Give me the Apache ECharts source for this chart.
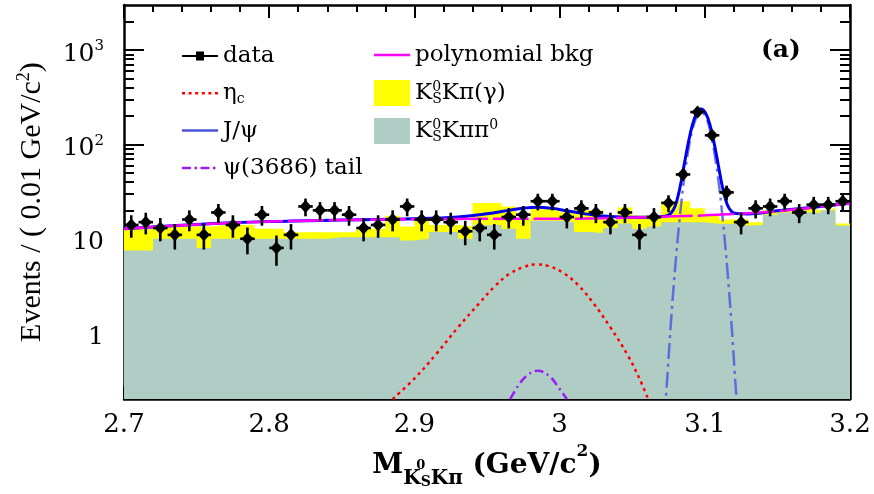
<!DOCTYPE html>
<html>
<head>
<meta charset="utf-8">
<title>KsKpi mass spectrum</title>
<script src="https://cdn.jsdelivr.net/npm/echarts@6.0.0/dist/echarts.min.js"></script>
<style>
  html, body { margin: 0; padding: 0; background: #fff; }
  #chart { width: 874px; height: 494px; }
</style>
</head>
<body>
<div id="chart"></div>
<script>
// binning: 0.01 GeV/c2 from 2.70 to 3.20
const binLow = 2.70, binWidth = 0.01, nBins = 50;

// events per bin
const dataCounts = [14, 15, 13, 11, 16, 11, 19, 14, 10, 18,
                    8, 11, 22, 20, 20, 18, 13, 14, 16, 22,
                    16, 16, 15, 12, 13, 11, 17, 18, 25, 25,
                    17, 21, 19, 15, 19, 11, 17, 24, 48, 220,
                    125, 31, 15, 21, 22, 25, 19, 23, 23, 25];

// K_S K pi pi0 background (teal)
const kskpipi0Hist = [7.5, 7.5, 10, 10, 10, 8, 10, 10, 10, 10,
                      10, 10, 10, 10, 10.4, 10.4, 10.4, 10.4, 10.4, 9.6,
                      10, 11.8, 11.8, 10, 14, 14, 12.8, 10, 15.5, 15.5,
                      15, 11.8, 11.5, 13, 14.5, 12.8, 13.5, 15, 15, 15,
                      14.4, 14.4, 13.8, 14, 18, 19, 20, 19, 20, 13.8];

// K_S K pi (gamma) background (yellow, stacked on the teal one)
const kskpigHist = [5.5, 5, 3.5, 3.5, 3.5, 5.5, 4, 4, 4, 2.8,
                    2.8, 1.7, 1.7, 1.7, 1.3, 1.3, 2.4, 2.4, 7.1, 3.9,
                    6.9, 2.2, 2.2, 3.5, 10, 10, 9.2, 6, 5, 5,
                    4, 8.2, 8.5, 3, 7, 4.8, 3.5, 10, 10, 6,
                    3.6, 1.6, 2.2, 1, 2, 1, 1, 1, 1, 0.7];

// fit curves [mass, events]
const polyCurve = [[2.70, 12.8], [2.75, 14.2], [2.80, 15.2], [2.85, 15.8], [2.90, 16.1],
                   [2.95, 16.3], [3.00, 16.3], [3.05, 16.8], [3.10, 17.7], [3.15, 19.6], [3.20, 23.8]];

const etacCurve = [[2.885, 0.2], [2.90, 0.33], [2.915, 0.6], [2.93, 1.15], [2.945, 2.1],
                   [2.955, 3.1], [2.965, 4.2], [2.975, 5.0], [2.984, 5.35], [2.993, 5.1],
                   [3.003, 4.3], [3.013, 3.2], [3.023, 2.1], [3.035, 1.15], [3.047, 0.58],
                   [3.055, 0.33], [3.061, 0.2]];

const psiTailCurve = [[2.966, 0.2], [2.971, 0.27], [2.977, 0.35], [2.985, 0.40],
                      [2.993, 0.35], [2.999, 0.27], [3.005, 0.2]];

const jpsiCurve = [[3.072, 0.13], [3.0735, 0.24], [3.0765, 1.19], [3.0795, 4.75], [3.0825, 15.3],
                   [3.0855, 40], [3.0885, 84], [3.0915, 144], [3.0945, 198], [3.0975, 220],
                   [3.1005, 198], [3.1035, 144], [3.1065, 84], [3.1095, 40], [3.1125, 15.3],
                   [3.1155, 4.75], [3.1185, 1.19], [3.1215, 0.24], [3.123, 0.13]];

const totalCurve = [[2.70, 12.8], [2.75, 14.2], [2.80, 15.2], [2.85, 15.8], [2.90, 16.3],
                    [2.93, 17.0], [2.95, 18.4], [2.965, 20.0], [2.975, 21.1], [2.985, 21.6],
                    [2.995, 21.0], [3.005, 19.8], [3.015, 18.6], [3.03, 17.4], [3.045, 16.9],
                    [3.06, 16.9], [3.0705, 17.2], [3.0735, 17.5], [3.0765, 18.5], [3.0795, 22.1],
                    [3.0825, 32.7], [3.0855, 57.4], [3.0885, 101.5], [3.0915, 161.5], [3.0945, 215.6],
                    [3.0975, 237.7], [3.1005, 215.8], [3.1035, 161.9], [3.1065, 102], [3.1095, 58],
                    [3.1125, 33.4], [3.1155, 22.9], [3.1185, 19.4], [3.1215, 18.5], [3.13, 18.3],
                    [3.15, 19.8], [3.175, 21.6], [3.20, 23.8]];

// axis ticks
const yMajorTicks = [1, 10, 100, 1000];
const yMinorTicks = [0.2, 0.3, 0.4, 0.5, 0.6, 0.7, 0.8, 0.9,
                     2, 3, 4, 5, 6, 7, 8, 9,
                     20, 30, 40, 50, 60, 70, 80, 90,
                     200, 300, 400, 500, 600, 700, 800, 900, 2000];

const edges = [];
for (let i = 0; i <= nBins; i++) edges.push(+(binLow + i * binWidth).toFixed(2));
const centers = dataCounts.map((_, i) => +(binLow + (i + 0.5) * binWidth).toFixed(3));
const histSteps = h => edges.map((e, i) => [e, h[Math.min(i, nBins - 1)]]);
// yellow is drawn as the stacked sum, teal is painted over it
const stackedTop = kskpipi0Hist.map((v, i) => v + kskpigHist[i]);

const serif = 'DejaVu Serif';
const legendNames = {
  data: 'data',
  eta_c: '{t|η}{sb|c}',
  jpsi: 'J/ψ',
  psi_tail: 'ψ(3686) tail',
  poly: 'polynomial bkg',
  kskpig: 'K{z|0}{s|S}Kπ(γ)',
  kskpipi0: 'K{z|0}{s|S}Kππ{p|0}'
};
const legendText = {
  fontFamily: serif, fontSize: 23, color: '#000', lineHeight: 26,
  rich: {
    t: { fontFamily: serif, fontSize: 23, lineHeight: 26 },
    sb: { fontFamily: serif, fontSize: 14, lineHeight: 14, verticalAlign: 'bottom' },
    z: { fontFamily: serif, fontSize: 14, lineHeight: 14, verticalAlign: 'top', width: 0 },
    s: { fontFamily: serif, fontSize: 14, lineHeight: 14, verticalAlign: 'bottom' },
    p: { fontFamily: serif, fontSize: 14, lineHeight: 14, verticalAlign: 'top' }
  }
};
const solidIcon = 'path://M0,0L36,0L36,2.5L0,2.5Z';
const dottedIcon = 'path://M0,0h3v2.5h-3zM6.6,0h3v2.5h-3zM13.2,0h3v2.5h-3zM19.8,0h3v2.5h-3zM26.4,0h3v2.5h-3zM33,0h3v2.5h-3z';
const dashDotIcon = 'path://M0,0h9v2.5h-9zM12.5,0h2.5v2.5h-2.5zM18.5,0h9v2.5h-9zM31,0h2.5v2.5h-2.5zM36,0h0.01v2.5h-0.01z';

function renderPoint(params, api) {
  const m = api.value(0), n = api.value(1), e = Math.sqrt(n);
  const c = api.coord([m, n]);
  const hi = api.coord([m, n + e]);
  const lo = api.coord([m, Math.max(n - e, 0.05)]);
  const l = api.coord([m - binWidth / 2, n]);
  const r = api.coord([m + binWidth / 2, n]);
  const st = { stroke: '#000', lineWidth: 2.6 };
  return {
    type: 'group',
    children: [
      { type: 'line', shape: { x1: c[0], y1: hi[1], x2: c[0], y2: lo[1] }, style: st },
      { type: 'line', shape: { x1: l[0], y1: c[1], x2: r[0], y2: c[1] }, style: st },
      { type: 'polygon', shape: { points: [[c[0] - 6, c[1]], [c[0], c[1] - 6.5], [c[0] + 6, c[1]], [c[0], c[1] + 6.5]] },
        style: { fill: '#000' } }
    ]
  };
}

const xBase = {
  type: 'value', min: 2.7, max: 3.2, interval: 0.1,
  axisLine: { show: true, onZero: false, lineStyle: { color: '#000', width: 2.5 } },
  axisTick: { show: true, inside: true, length: 13, lineStyle: { color: '#000', width: 2 } },
  minorTick: { show: true, splitNumber: 5, length: 7, lineStyle: { color: '#000', width: 2 } },
  splitLine: { show: false }, minorSplitLine: { show: false }
};
const yBase = {
  type: 'log', logBase: 10, min: 0.2, max: 3000,
  splitLine: { show: false }, minorSplitLine: { show: false },
  axisLabel: { show: false }
};

const option = {
  animation: false,
  backgroundColor: '#fff',
  title: {
    text: '(a)', left: 761, top: 38, padding: 0,
    textStyle: { fontFamily: serif, fontWeight: 'bold', fontSize: 25, color: '#000' }
  },
  grid: { left: 124, right: 24, top: 5, bottom: 86, containLabel: false },
  legend: [
    {
      orient: 'vertical', left: 177, top: 38, itemWidth: 36, itemHeight: 26, itemGap: 11.3,
      selectedMode: false,
      data: [
        { name: 'data', icon: 'path://M0,3.5L14,3.5L14,0L22,0L22,3.5L36,3.5L36,5.5L22,5.5L22,9L14,9L14,5.5L0,5.5Z' },
        { name: 'eta_c', icon: dottedIcon },
        { name: 'jpsi', icon: solidIcon },
        { name: 'psi_tail', icon: dashDotIcon }
      ],
      formatter: name => legendNames[name],
      textStyle: legendText
    },
    {
      orient: 'vertical', left: 369, top: 37, itemWidth: 36, itemHeight: 26, itemGap: 12,
      selectedMode: false,
      data: [
        { name: 'poly', icon: solidIcon },
        { name: 'kskpig', icon: 'rect' },
        { name: 'kskpipi0', icon: 'rect' }
      ],
      formatter: name => legendNames[name],
      textStyle: legendText
    }
  ],
  xAxis: [
    Object.assign({}, xBase, {
      position: 'bottom',
      axisLabel: { margin: 13, fontFamily: serif, fontSize: 26, color: '#000' },
      name: '{m|M}{k|K}{z|0}{s|S}{k|Kπ}{m| (GeV/c}{p|2}{m|)}',
      nameLocation: 'middle', nameGap: 35,
      nameTextStyle: {
        color: '#000',
        rich: {
          m: { fontFamily: serif, fontWeight: 'bold', fontSize: 28, lineHeight: 46, verticalAlign: 'middle', color: '#000' },
          k: { fontFamily: serif, fontWeight: 'bold', fontSize: 20, lineHeight: 34, verticalAlign: 'bottom', color: '#000' },
          z: { fontFamily: serif, fontWeight: 'bold', fontSize: 13, lineHeight: 20, verticalAlign: 'middle', width: 0, color: '#000' },
          s: { fontFamily: serif, fontWeight: 'bold', fontSize: 14, lineHeight: 11, verticalAlign: 'bottom', color: '#000' },
          p: { fontFamily: serif, fontWeight: 'bold', fontSize: 17, lineHeight: 22, verticalAlign: 'top', color: '#000' }
        }
      }
    }),
    Object.assign({}, xBase, { position: 'top', axisLabel: { show: false } })
  ],
  yAxis: [
    Object.assign({}, yBase, {
      position: 'left',
      axisLine: { show: true, onZero: false, lineStyle: { color: '#000', width: 2.5 } },
      axisTick: { show: true, inside: true, length: 20, customValues: yMajorTicks, lineStyle: { color: '#000', width: 2 } },
      axisLabel: {
        show: true, customValues: yMajorTicks, margin: 20, padding: [8, 0, 0, 0],
        formatter: v => {
          const r = Math.round(v);
          if (r === 100) return '{n|10}{e|2}';
          if (r === 1000) return '{n|10}{e|3}';
          return '{n|' + r + '}';
        },
        rich: {
          n: { fontFamily: serif, fontSize: 25, lineHeight: 30, color: '#000' },
          e: { fontFamily: serif, fontSize: 15, lineHeight: 15, verticalAlign: 'top', color: '#000' }
        }
      },
      name: '{t|Events / ( 0.01 GeV/c}{s|2}{t|)}',
      nameLocation: 'middle', nameGap: 75, nameRotate: 90,
      nameTextStyle: {
        color: '#000',
        rich: {
          t: { fontFamily: 'Liberation Serif', fontSize: 30, lineHeight: 34, color: '#000' },
          s: { fontFamily: 'Liberation Serif', fontSize: 18, lineHeight: 20, verticalAlign: 'top', color: '#000' }
        }
      }
    }),
    Object.assign({}, yBase, {
      position: 'left',
      axisLine: { show: false },
      axisTick: { show: true, inside: true, length: 10, customValues: yMinorTicks, lineStyle: { color: '#000', width: 2 } }
    }),
    Object.assign({}, yBase, {
      position: 'right',
      axisLine: { show: true, onZero: false, lineStyle: { color: '#000', width: 2.5 } },
      axisTick: { show: true, inside: true, length: 20, customValues: yMajorTicks, lineStyle: { color: '#000', width: 2 } }
    }),
    Object.assign({}, yBase, {
      position: 'right',
      axisLine: { show: false },
      axisTick: { show: true, inside: true, length: 10, customValues: yMinorTicks, lineStyle: { color: '#000', width: 2 } }
    })
  ],
  series: [
    {
      name: 'kskpig', type: 'line', step: 'end', symbol: 'none',
      color: '#ffff00', lineStyle: { width: 0, color: '#ffff00' },
      areaStyle: { color: '#ffff00', opacity: 1, origin: 'start' },
      data: histSteps(stackedTop), z: 1
    },
    {
      name: 'kskpipi0', type: 'line', step: 'end', symbol: 'none',
      color: '#afcdc5', lineStyle: { width: 0, color: '#afcdc5' },
      areaStyle: { color: '#afcdc5', opacity: 1, origin: 'start' },
      data: histSteps(kskpipi0Hist), z: 1
    },
    {
      name: 'eta_c', type: 'line', smooth: 0.4, symbol: 'none', color: '#ff0000',
      lineStyle: { color: '#ff0000', width: 2.5, type: [3, 4] },
      data: etacCurve, z: 3
    },
    {
      name: 'psi_tail', type: 'line', smooth: 0.4, symbol: 'none', color: '#9b1ff2',
      lineStyle: { color: '#9b1ff2', width: 2.5, type: [9, 4, 2, 4] },
      data: psiTailCurve, z: 3
    },
    {
      name: 'jpsi', type: 'line', smooth: 0.4, symbol: 'none', color: '#4a55dd',
      lineStyle: { color: 'rgba(80,90,225,0.85)', width: 2.5, type: [16, 5, 3, 5] },
      data: jpsiCurve, z: 3
    },
    {
      name: 'total', type: 'line', smooth: 0.4, symbol: 'none', color: '#0000ee',
      lineStyle: { color: '#0000ee', width: 3 },
      data: totalCurve, z: 4
    },
    {
      name: 'poly', type: 'line', smooth: 0.4, symbol: 'none', color: '#ff00ff',
      lineStyle: { color: '#ff00ff', width: 2.5, type: [36, 5] },
      data: polyCurve, z: 5
    },
    {
      name: 'data', type: 'custom', renderItem: renderPoint, clip: true,
      color: '#000', itemStyle: { color: '#000' },
      encode: { x: 0, y: 1 },
      data: centers.map((m, i) => [m, dataCounts[i]]), z: 6
    }
  ]
};

const chart = echarts.init(document.getElementById('chart'));
chart.setOption(option);
</script>
</body>
</html>
